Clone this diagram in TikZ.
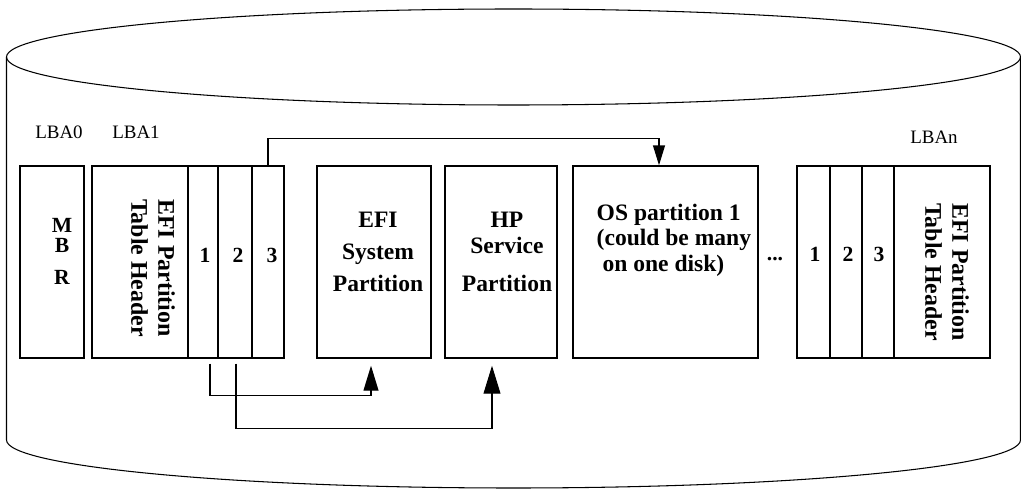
\documentclass[tikz,border=0pt]{standalone}
\usepackage{fontspec}
\setmainfont{Liberation Serif}
\usetikzlibrary{arrows.meta}

\newcommand{\pxu}{0.02cm}

\begin{document}
\begin{tikzpicture}[x=0.02cm, y=-0.02cm,
    blk/.style={draw, line width=0.85pt, minimum height=192*\pxu, inner sep=0pt},
    lba/.style={font=\fontsize{10.8}{12}\selectfont},
    bx/.style={font=\bfseries\fontsize{13.6}{15.3}\selectfont},
    num/.style={font=\bfseries\fontsize{12.3}{13}\selectfont},
    link/.style={line width=0.7pt}]

\useasboundingbox (0,0) rectangle (1021,489);

% disk outline
\draw[line width=0.6pt] (513.5,57) ellipse [x radius=507*\pxu, y radius=48*\pxu];
\draw[line width=0.6pt] (6.5,57) -- (6.5,440)
    arc[start angle=180, end angle=360, x radius=507*\pxu, y radius=48*\pxu] -- (1020.5,57);

% blocks
\begin{scope}[every node/.style={blk}]
    \node[minimum width=64*\pxu] (mbr) at (52,262) {};
    \node[minimum width=96*\pxu] (hdrL) at (140,262) {};
    \node[minimum width=30*\pxu] (c1L) at (203,262) {};
    \node[minimum width=34*\pxu] (c2L) at (235,262) {};
    \node[minimum width=32*\pxu] (c3L) at (268,262) {};
    \node[minimum width=114*\pxu] (esp) at (374,262) {};
    \node[minimum width=112*\pxu] (hpsp) at (501,262) {};
    \node[minimum width=185*\pxu] (osp) at (665.5,262) {};
    \node[minimum width=33*\pxu] (c1R) at (813.5,262) {};
    \node[minimum width=32*\pxu] (c2R) at (846,262) {};
    \node[minimum width=32*\pxu] (c3R) at (878,262) {};
    \node[minimum width=96*\pxu] (hdrR) at (942,262) {};
\end{scope}

% LBA labels
\node[lba] (lba0) at (59,132) {LBA0};
\node[lba] (lba1) at (136,132) {LBA1};
\node[lba] (lban) at (934,137) {LBAn};

% texts
\node[font=\bfseries\fontsize{12.3}{11.6}\selectfont, align=center] (mbrtxt) at (62,251) {M\\B\\[6.4pt]R};
\node[bx, rotate=-90, align=center] (hdrLtxt) at (153,268) {EFI Partition\\Table Header};
\node[bx, rotate=-90, align=center] (hdrRtxt) at (947,272) {EFI Partition\\Table Header};
\node[font=\bfseries\fontsize{13.4}{18.1}\selectfont, align=center] (esptxt) at (378,252) {EFI\\System\\Partition};
\node[font=\bfseries\fontsize{13.4}{15}\selectfont, align=center] (hptxt) at (507,252) {HP\\Service\\[6.5pt]Partition};
\node[font=\bfseries\fontsize{13.4}{14.6}\selectfont, align=left, anchor=west] (ostxt) at (590.5,240) {OS partition 1\\(could be many\\\ on one disk)};
\node[num] (dots) at (775,259) {...};

\node[num] (n1L) at (205,255) {1};
\node[num] (n2L) at (238,255) {2};
\node[num] (n3L) at (272,255) {3};
\node[num] (n1R) at (815,254) {1};
\node[num] (n2R) at (848,254) {2};
\node[num] (n3R) at (879,254) {3};

% pointers
\draw[link, -{Triangle[length=11.3pt, width=6.8pt]}]
    (c3L.north) -- ++(0,-27) -| ([xshift=-6.5*\pxu]osp.north);
\draw[link, shorten <=5*\pxu, shorten >=7*\pxu, -{Triangle[length=14.2pt, width=8.5pt]}]
    ([xshift=7*\pxu]c1L.south) -- ++(0,37) -| ([xshift=-3*\pxu]esp.south);
\draw[link, shorten <=5*\pxu, shorten >=7*\pxu, -{Triangle[length=15.9pt, width=9.6pt]}]
    ([xshift=1*\pxu]c2L.south) -- ++(0,70) -| ([xshift=-9*\pxu]hpsp.south);

\end{tikzpicture}
\end{document}
